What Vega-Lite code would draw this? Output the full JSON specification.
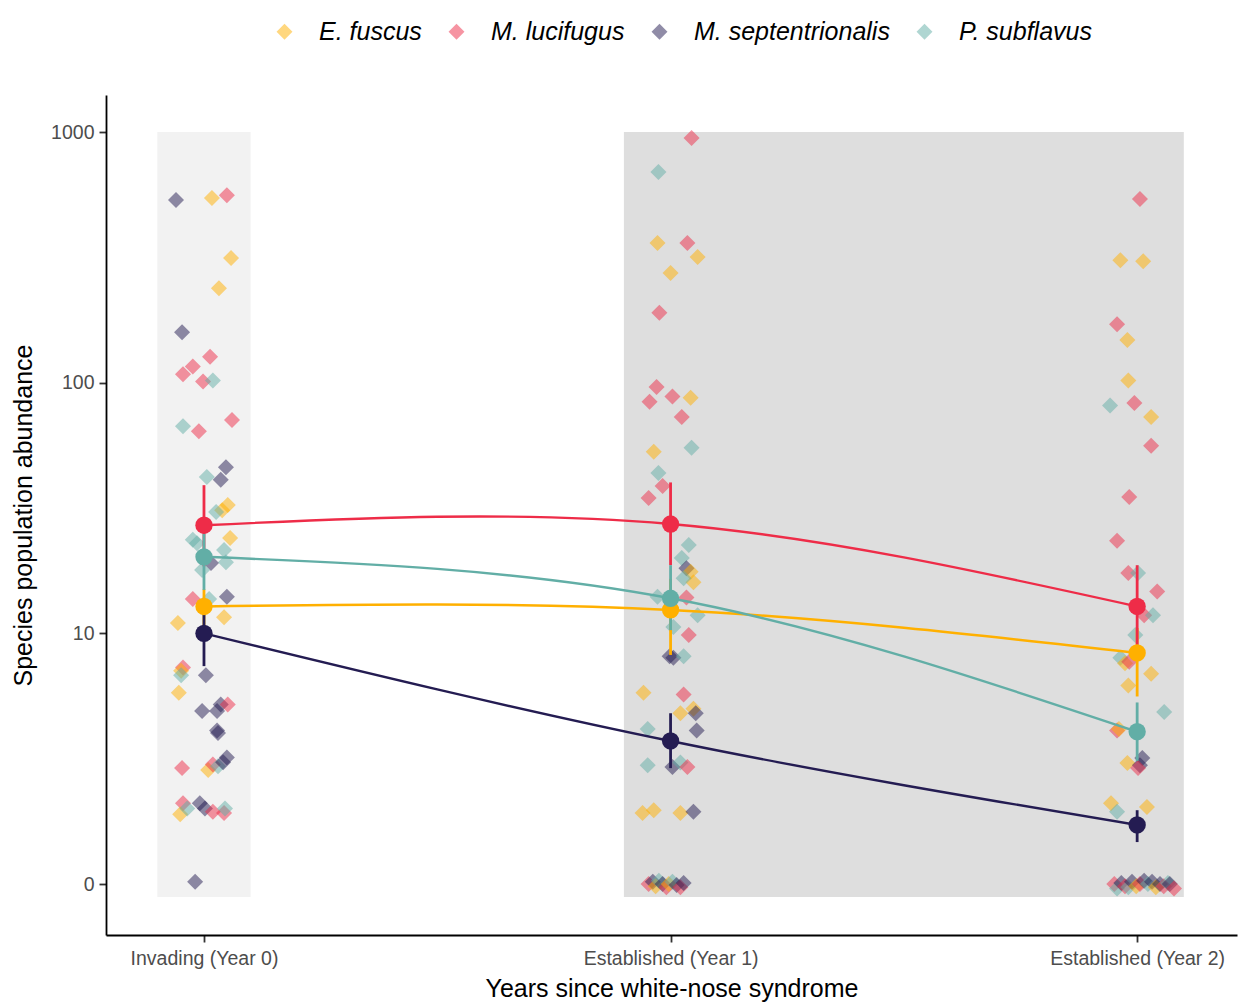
{
"$schema": "https://vega.github.io/schema/vega-lite/v6.json",
"width": 1131, "height": 840,
"autosize": {"type": "none"},
"padding": {"left": 106, "top": 95, "right": 1, "bottom": 72},
"background": "white",
"config": {
 "view": {"stroke": null},
 "font": "Liberation Sans",
 "axis": {"grid": false, "domainColor": "black", "domainWidth": 1.8, "tickColor": "#333333", "tickWidth": 1.8, "tickSize": 7, "labelColor": "#4D4D4D", "labelFontSize": 19.5, "titleColor": "black", "titleFontSize": 25, "titleFontWeight": "normal", "labelFont": "Liberation Sans", "titleFont": "Liberation Sans"},
 "legend": {"orient": "none", "legendX": 166, "legendY": -76, "direction": "horizontal", "symbolType": "diamond", "symbolSize": 190, "labelFontSize": 25, "labelFontStyle": "italic", "labelColor": "black", "labelOffset": 22, "labelLimit": 0, "columnPadding": 22, "padding": 0, "symbolOpacity": 0.5, "labelFont": "Liberation Sans"}
},
"datasets": {
 "means": [
  {"species": "E. fuscus", "year": 0, "mean": 12.8, "lo": 9.5, "hi": 15},
  {"species": "E. fuscus", "year": 1, "mean": 12.4, "lo": 8.2, "hi": 16.5},
  {"species": "E. fuscus", "year": 2, "mean": 8.35, "lo": 5.6, "hi": 10.5},
  {"species": "M. lucifugus", "year": 0, "mean": 27, "lo": 18.5, "hi": 39},
  {"species": "M. lucifugus", "year": 1, "mean": 27.3, "lo": 18.7, "hi": 40},
  {"species": "M. lucifugus", "year": 2, "mean": 12.8, "lo": 9.0, "hi": 18.7},
  {"species": "M. septentrionalis", "year": 0, "mean": 10.0, "lo": 7.4, "hi": 12.9},
  {"species": "M. septentrionalis", "year": 1, "mean": 3.72, "lo": 2.9, "hi": 4.8},
  {"species": "M. septentrionalis", "year": 2, "mean": 1.72, "lo": 1.47, "hi": 1.97},
  {"species": "P. subflavus", "year": 0, "mean": 20.2, "lo": 14.9, "hi": 25},
  {"species": "P. subflavus", "year": 1, "mean": 13.8, "lo": 10.3, "hi": 18.7},
  {"species": "P. subflavus", "year": 2, "mean": 4.05, "lo": 3.1, "hi": 5.3}
 ],
 "points": [
  {"species": "M. septentrionalis", "year": -0.060, "abundance": 535},
  {"species": "E. fuscus", "year": 0.017, "abundance": 545},
  {"species": "M. lucifugus", "year": 0.049, "abundance": 560},
  {"species": "E. fuscus", "year": 0.058, "abundance": 314},
  {"species": "E. fuscus", "year": 0.032, "abundance": 238},
  {"species": "M. septentrionalis", "year": -0.047, "abundance": 159},
  {"species": "M. lucifugus", "year": 0.013, "abundance": 127},
  {"species": "M. lucifugus", "year": -0.024, "abundance": 116},
  {"species": "M. lucifugus", "year": -0.045, "abundance": 108},
  {"species": "M. lucifugus", "year": -0.002, "abundance": 101},
  {"species": "P. subflavus", "year": 0.019, "abundance": 102},
  {"species": "P. subflavus", "year": -0.045, "abundance": 67},
  {"species": "M. lucifugus", "year": -0.011, "abundance": 64},
  {"species": "M. lucifugus", "year": 0.060, "abundance": 71},
  {"species": "M. septentrionalis", "year": 0.047, "abundance": 46},
  {"species": "M. septentrionalis", "year": 0.036, "abundance": 41},
  {"species": "P. subflavus", "year": 0.006, "abundance": 42},
  {"species": "E. fuscus", "year": 0.051, "abundance": 32.5},
  {"species": "E. fuscus", "year": 0.039, "abundance": 31},
  {"species": "P. subflavus", "year": 0.026, "abundance": 30.5},
  {"species": "P. subflavus", "year": -0.024, "abundance": 23.6},
  {"species": "P. subflavus", "year": -0.015, "abundance": 22.9},
  {"species": "E. fuscus", "year": 0.056, "abundance": 24},
  {"species": "P. subflavus", "year": 0.043, "abundance": 21.5},
  {"species": "P. subflavus", "year": 0.047, "abundance": 19.2},
  {"species": "M. septentrionalis", "year": 0.015, "abundance": 19.1},
  {"species": "P. subflavus", "year": -0.004, "abundance": 17.9},
  {"species": "M. lucifugus", "year": -0.024, "abundance": 13.7},
  {"species": "P. subflavus", "year": 0.011, "abundance": 13.7},
  {"species": "M. septentrionalis", "year": 0.049, "abundance": 14.0},
  {"species": "E. fuscus", "year": 0.043, "abundance": 11.6},
  {"species": "E. fuscus", "year": -0.056, "abundance": 11.0},
  {"species": "M. lucifugus", "year": -0.045, "abundance": 7.3},
  {"species": "E. fuscus", "year": -0.049, "abundance": 7.1},
  {"species": "P. subflavus", "year": -0.049, "abundance": 6.8},
  {"species": "M. septentrionalis", "year": 0.004, "abundance": 6.8},
  {"species": "E. fuscus", "year": -0.054, "abundance": 5.8},
  {"species": "M. septentrionalis", "year": -0.004, "abundance": 4.9},
  {"species": "M. septentrionalis", "year": 0.028, "abundance": 4.9},
  {"species": "M. septentrionalis", "year": 0.036, "abundance": 5.2},
  {"species": "M. lucifugus", "year": 0.051, "abundance": 5.2},
  {"species": "M. septentrionalis", "year": 0.028, "abundance": 4.1},
  {"species": "M. septentrionalis", "year": 0.030, "abundance": 4.0},
  {"species": "M. lucifugus", "year": -0.047, "abundance": 2.9},
  {"species": "E. fuscus", "year": 0.009, "abundance": 2.85},
  {"species": "M. lucifugus", "year": 0.019, "abundance": 3.0},
  {"species": "P. subflavus", "year": 0.030, "abundance": 2.95},
  {"species": "M. septentrionalis", "year": 0.049, "abundance": 3.2},
  {"species": "M. septentrionalis", "year": 0.041, "abundance": 3.06},
  {"species": "M. lucifugus", "year": -0.045, "abundance": 2.1},
  {"species": "E. fuscus", "year": -0.051, "abundance": 1.9},
  {"species": "P. subflavus", "year": -0.036, "abundance": 2.0},
  {"species": "M. septentrionalis", "year": -0.009, "abundance": 2.1},
  {"species": "M. septentrionalis", "year": 0.002, "abundance": 2.0},
  {"species": "M. lucifugus", "year": 0.019, "abundance": 1.94},
  {"species": "M. lucifugus", "year": 0.043, "abundance": 1.92},
  {"species": "P. subflavus", "year": 0.045, "abundance": 2.0},
  {"species": "M. septentrionalis", "year": -0.019, "abundance": 1.02},

  {"species": "M. lucifugus", "year": 1.045, "abundance": 946},
  {"species": "P. subflavus", "year": 0.974, "abundance": 692},
  {"species": "E. fuscus", "year": 0.972, "abundance": 361},
  {"species": "M. lucifugus", "year": 1.036, "abundance": 361},
  {"species": "E. fuscus", "year": 1.058, "abundance": 317},
  {"species": "E. fuscus", "year": 1.000, "abundance": 274},
  {"species": "M. lucifugus", "year": 0.976, "abundance": 190},
  {"species": "M. lucifugus", "year": 0.970, "abundance": 96},
  {"species": "M. lucifugus", "year": 0.955, "abundance": 84},
  {"species": "M. lucifugus", "year": 1.004, "abundance": 88},
  {"species": "E. fuscus", "year": 1.043, "abundance": 87},
  {"species": "M. lucifugus", "year": 1.024, "abundance": 73},
  {"species": "E. fuscus", "year": 0.964, "abundance": 53},
  {"species": "P. subflavus", "year": 1.045, "abundance": 55},
  {"species": "P. subflavus", "year": 0.974, "abundance": 43.6},
  {"species": "M. lucifugus", "year": 0.983, "abundance": 38.7},
  {"species": "M. lucifugus", "year": 0.953, "abundance": 34.7},
  {"species": "P. subflavus", "year": 1.039, "abundance": 22.5},
  {"species": "P. subflavus", "year": 1.024, "abundance": 20},
  {"species": "M. septentrionalis", "year": 1.034, "abundance": 18.2},
  {"species": "E. fuscus", "year": 1.043, "abundance": 17.6},
  {"species": "E. fuscus", "year": 1.049, "abundance": 16.0},
  {"species": "P. subflavus", "year": 1.028, "abundance": 16.6},
  {"species": "P. subflavus", "year": 0.972, "abundance": 14.0},
  {"species": "M. lucifugus", "year": 1.034, "abundance": 13.9},
  {"species": "P. subflavus", "year": 1.058, "abundance": 11.8},
  {"species": "P. subflavus", "year": 1.006, "abundance": 10.6},
  {"species": "M. lucifugus", "year": 1.039, "abundance": 9.85},
  {"species": "M. septentrionalis", "year": 1.006, "abundance": 8.0},
  {"species": "M. septentrionalis", "year": 0.998, "abundance": 8.1},
  {"species": "P. subflavus", "year": 1.028, "abundance": 8.1},
  {"species": "E. fuscus", "year": 0.942, "abundance": 5.8},
  {"species": "M. lucifugus", "year": 1.028, "abundance": 5.7},
  {"species": "E. fuscus", "year": 1.021, "abundance": 4.8},
  {"species": "E. fuscus", "year": 1.049, "abundance": 5.0},
  {"species": "M. septentrionalis", "year": 1.054, "abundance": 4.8},
  {"species": "P. subflavus", "year": 0.951, "abundance": 4.15},
  {"species": "M. septentrionalis", "year": 1.056, "abundance": 4.1},
  {"species": "P. subflavus", "year": 0.951, "abundance": 2.98},
  {"species": "M. septentrionalis", "year": 1.004, "abundance": 2.93},
  {"species": "P. subflavus", "year": 1.021, "abundance": 3.05},
  {"species": "M. lucifugus", "year": 1.036, "abundance": 2.93},
  {"species": "E. fuscus", "year": 0.940, "abundance": 1.92},
  {"species": "E. fuscus", "year": 0.964, "abundance": 1.97},
  {"species": "E. fuscus", "year": 1.021, "abundance": 1.92},
  {"species": "M. septentrionalis", "year": 1.049, "abundance": 1.94},
  {"species": "M. lucifugus", "year": 0.953, "abundance": 1.0},
  {"species": "M. septentrionalis", "year": 0.962, "abundance": 1.02},
  {"species": "E. fuscus", "year": 0.968, "abundance": 0.98},
  {"species": "P. subflavus", "year": 0.975, "abundance": 1.03},
  {"species": "M. septentrionalis", "year": 0.983, "abundance": 1.0},
  {"species": "M. lucifugus", "year": 0.991, "abundance": 0.97},
  {"species": "E. fuscus", "year": 0.996, "abundance": 1.0},
  {"species": "P. subflavus", "year": 1.004, "abundance": 1.02},
  {"species": "M. septentrionalis", "year": 1.013, "abundance": 0.99},
  {"species": "M. lucifugus", "year": 1.021, "abundance": 0.97},
  {"species": "M. septentrionalis", "year": 1.028, "abundance": 1.01},

  {"species": "M. lucifugus", "year": 2.006, "abundance": 540},
  {"species": "E. fuscus", "year": 1.964, "abundance": 308},
  {"species": "E. fuscus", "year": 2.013, "abundance": 305},
  {"species": "M. lucifugus", "year": 1.957, "abundance": 171},
  {"species": "E. fuscus", "year": 1.979, "abundance": 148},
  {"species": "E. fuscus", "year": 1.981, "abundance": 102},
  {"species": "P. subflavus", "year": 1.942, "abundance": 81},
  {"species": "M. lucifugus", "year": 1.994, "abundance": 83},
  {"species": "E. fuscus", "year": 2.030, "abundance": 73},
  {"species": "M. lucifugus", "year": 2.030, "abundance": 56},
  {"species": "M. lucifugus", "year": 1.983, "abundance": 35},
  {"species": "M. lucifugus", "year": 1.957, "abundance": 23.4},
  {"species": "M. lucifugus", "year": 1.981, "abundance": 17.4},
  {"species": "P. subflavus", "year": 2.002, "abundance": 17.4},
  {"species": "M. lucifugus", "year": 2.043, "abundance": 14.7},
  {"species": "M. lucifugus", "year": 2.015, "abundance": 11.8},
  {"species": "P. subflavus", "year": 2.034, "abundance": 11.8},
  {"species": "P. subflavus", "year": 1.996, "abundance": 9.85},
  {"species": "P. subflavus", "year": 1.964, "abundance": 8.0},
  {"species": "E. fuscus", "year": 1.974, "abundance": 7.6},
  {"species": "M. lucifugus", "year": 1.983, "abundance": 7.7},
  {"species": "E. fuscus", "year": 2.030, "abundance": 6.9},
  {"species": "E. fuscus", "year": 1.981, "abundance": 6.2},
  {"species": "P. subflavus", "year": 2.058, "abundance": 4.85},
  {"species": "M. lucifugus", "year": 1.957, "abundance": 4.1},
  {"species": "E. fuscus", "year": 1.961, "abundance": 4.15},
  {"species": "E. fuscus", "year": 1.979, "abundance": 3.04},
  {"species": "M. septentrionalis", "year": 2.011, "abundance": 3.18},
  {"species": "M. septentrionalis", "year": 2.006, "abundance": 2.98},
  {"species": "M. lucifugus", "year": 2.002, "abundance": 2.9},
  {"species": "E. fuscus", "year": 1.944, "abundance": 2.1},
  {"species": "P. subflavus", "year": 1.957, "abundance": 1.94},
  {"species": "E. fuscus", "year": 2.021, "abundance": 2.03},
  {"species": "M. lucifugus", "year": 1.951, "abundance": 1.0},
  {"species": "P. subflavus", "year": 1.957, "abundance": 0.96},
  {"species": "M. septentrionalis", "year": 1.966, "abundance": 1.01},
  {"species": "M. lucifugus", "year": 1.974, "abundance": 0.98},
  {"species": "P. subflavus", "year": 1.981, "abundance": 0.97},
  {"species": "M. septentrionalis", "year": 1.989, "abundance": 1.02},
  {"species": "E. fuscus", "year": 1.998, "abundance": 0.98},
  {"species": "M. lucifugus", "year": 2.006, "abundance": 1.0},
  {"species": "M. septentrionalis", "year": 2.015, "abundance": 1.03},
  {"species": "P. subflavus", "year": 2.023, "abundance": 1.0},
  {"species": "M. septentrionalis", "year": 2.032, "abundance": 1.02},
  {"species": "E. fuscus", "year": 2.040, "abundance": 0.97},
  {"species": "M. septentrionalis", "year": 2.049, "abundance": 1.0},
  {"species": "M. lucifugus", "year": 2.057, "abundance": 0.98},
  {"species": "P. subflavus", "year": 2.066, "abundance": 1.01},
  {"species": "M. septentrionalis", "year": 2.070, "abundance": 1.0},
  {"species": "M. lucifugus", "year": 2.079, "abundance": 0.96}
 ]
},
"layer": [
 {
  "data": {"values": [{"start": -0.1, "end": 0.1, "lo": 0.887, "hi": 1000}]},
  "mark": {"type": "rect", "color": "#F2F2F2"},
  "encoding": {
   "x": {"field": "start", "type": "quantitative", "scale": {"domain": [-0.21, 2.214], "nice": false, "zero": false}, "axis": {"title": "Years since white-nose syndrome", "values": [0, 1, 2], "labelExpr": "['Invading (Year 0)','Established (Year 1)','Established (Year 2)'][datum.value]", "labelPadding": 7, "titlePadding": 9}},
   "x2": {"field": "end"},
   "y": {"field": "lo", "type": "quantitative", "scale": {"type": "log", "domain": [0.626, 1405], "nice": false}, "axis": {"title": "Species population abundance", "values": [1, 10, 100, 1000], "format": "d", "labelExpr": "datum.value == 1 ? '0' : datum.label", "labelPadding": 5, "titlePadding": 14}},
   "y2": {"field": "hi"}
  }
 },
 {
  "data": {"values": [{"start": 0.9, "end": 2.1, "lo": 0.887, "hi": 1000}]},
  "mark": {"type": "rect", "color": "#DEDEDE"},
  "encoding": {
   "x": {"field": "start", "type": "quantitative"},
   "x2": {"field": "end"},
   "y": {"field": "lo", "type": "quantitative"},
   "y2": {"field": "hi"}
  }
 },
 {
  "data": {"name": "points"},
  "mark": {"type": "point", "shape": "diamond", "filled": true, "opacity": 0.5, "size": 256},
  "encoding": {
   "x": {"field": "year", "type": "quantitative"},
   "y": {"field": "abundance", "type": "quantitative"},
   "color": {"field": "species", "type": "nominal", "scale": {"domain": ["E. fuscus", "M. lucifugus", "M. septentrionalis", "P. subflavus"], "range": ["#FFB000", "#EE2C48", "#241C52", "#62AEA6"]}, "legend": {"title": null}}
  }
 },
 {
  "data": {"name": "means"},
  "mark": {"type": "rule", "strokeWidth": 2.8},
  "encoding": {
   "x": {"field": "year", "type": "quantitative"},
   "y": {"field": "lo", "type": "quantitative"},
   "y2": {"field": "hi"},
   "color": {"field": "species", "type": "nominal"}
  }
 },
 {
  "data": {"name": "means"},
  "mark": {"type": "line", "interpolate": "natural", "strokeWidth": 2.4},
  "encoding": {
   "x": {"field": "year", "type": "quantitative"},
   "y": {"field": "mean", "type": "quantitative"},
   "color": {"field": "species", "type": "nominal"}
  }
 },
 {
  "data": {"name": "means"},
  "mark": {"type": "circle", "size": 300, "opacity": 1},
  "encoding": {
   "x": {"field": "year", "type": "quantitative"},
   "y": {"field": "mean", "type": "quantitative"},
   "color": {"field": "species", "type": "nominal"}
  }
 }
]
}
